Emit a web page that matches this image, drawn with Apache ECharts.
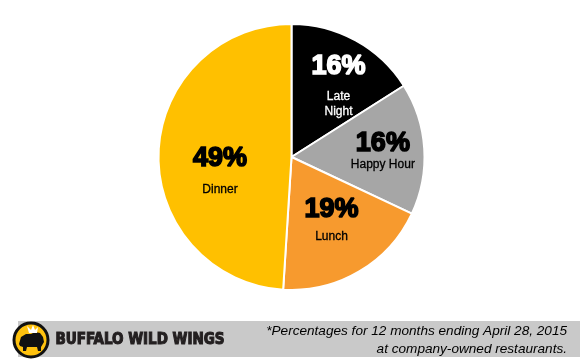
<!DOCTYPE html>
<html>
<head>
<meta charset="utf-8">
<script src="https://cdn.jsdelivr.net/npm/echarts@6/dist/echarts.min.js"></script>
<style>
html, body { margin: 0; padding: 0; background: #fff; }
#main { width: 580px; height: 363px; }
</style>
</head>
<body>
<div id="main"></div>
<script type="text/javascript">
// 数据
var names = ['Late Night', 'Happy Hour', 'Lunch', 'Dinner'];
var values = [16, 16, 19, 49];
var nameLabels = ['Late\nNight', 'Happy Hour', 'Lunch', 'Dinner'];
var footnote = ['*Percentages for 12 months ending April 28, 2015', 'at company-owned restaurants.'];

// 样式
var colors = ['#000000', '#a6a6a6', '#f79a2e', '#ffc000'];
var textColors = ['#ffffff', '#000000', '#000000', '#000000'];
var pctLineHeights = [45, 27, 39, 47];
var labelShift = [[13.5, -14.5], [22, -1.3], [4.6, 0.3], [-2, 11.5]];

var myChart = echarts.init(document.getElementById('main'));

var data = names.map(function (n, i) {
    return {
        name: n,
        value: values[i],
        itemStyle: { color: colors[i] },
        label: {
            formatter: '{pct|' + values[i] + '%}\n{nm|' + nameLabels[i].split('\n').join('}\n{nm|') + '}',
            rich: {
                pct: {
                    fontFamily: 'Liberation Sans',
                    fontSize: 27,
                    fontWeight: 900,
                    color: textColors[i],
                    textBorderColor: textColors[i],
                    textBorderWidth: 1.6,
                    lineHeight: pctLineHeights[i],
                    align: 'center'
                },
                nm: {
                    fontFamily: 'Liberation Sans',
                    fontSize: 12,
                    color: textColors[i],
                    textBorderColor: textColors[i],
                    textBorderWidth: 0.3,
                    lineHeight: 15,
                    align: 'center'
                }
            }
        }
    };
});

var option = {
    animation: false,
    series: [{
        type: 'pie',
        center: [291.5, 157],
        radius: 133,
        startAngle: 90,
        clockwise: true,
        data: data,
        itemStyle: { borderColor: '#fff', borderWidth: 2 },
        label: { show: true, position: 'inside' },
        labelLine: { show: false },
        emphasis: { disabled: true },
        labelLayout: function (p) {
            var s = labelShift[p.dataIndex];
            return { dx: s[0], dy: s[1] };
        }
    }],
    graphic: [
        // 底部灰条
        { type: 'rect', shape: { x: 18, y: 321, width: 562, height: 36 }, style: { fill: '#c9c9c9' }, z: 1 },
        // logo
        { type: 'circle', shape: { cx: 31, cy: 340, r: 17 }, style: { fill: '#ffc20e', stroke: '#111', lineWidth: 3 }, z: 2 },
        { type: 'polygon', shape: { points: [[19, 344], [21, 337], [26, 334], [31, 334], [35, 332], [40, 333], [43, 337], [44, 342], [41, 347], [41, 351], [38, 351], [37, 347], [27, 347], [26, 351], [23, 351], [23, 347], [20, 346]] }, style: { fill: '#111' }, z: 3 },
        { type: 'polygon', shape: { points: [[29, 333], [27, 326], [31, 330], [33, 325], [35, 330], [38, 327], [37, 333]] }, style: { fill: '#fff' }, z: 3 },
        {
            type: 'text', left: 55, top: 332, z: 3,
            style: {
                text: 'BUFFALO WILD WINGS',
                fontFamily: 'DejaVu Sans Condensed, DejaVu Sans',
                fontWeight: 'bold', fontSize: 15,
                fill: '#231f20', stroke: '#231f20', lineWidth: 1
            }
        },
        {
            type: 'text', right: 13, top: 324, z: 3,
            style: {
                text: footnote[0],
                fontFamily: 'Liberation Sans', fontStyle: 'italic', fontSize: 13.6,
                fill: '#000'
            }
        },
        {
            type: 'text', right: 13, top: 342, z: 3,
            style: {
                text: footnote[1],
                fontFamily: 'Liberation Sans', fontStyle: 'italic', fontSize: 13.6,
                fill: '#000'
            }
        }
    ]
};

myChart.setOption(option);
</script>
</body>
</html>
